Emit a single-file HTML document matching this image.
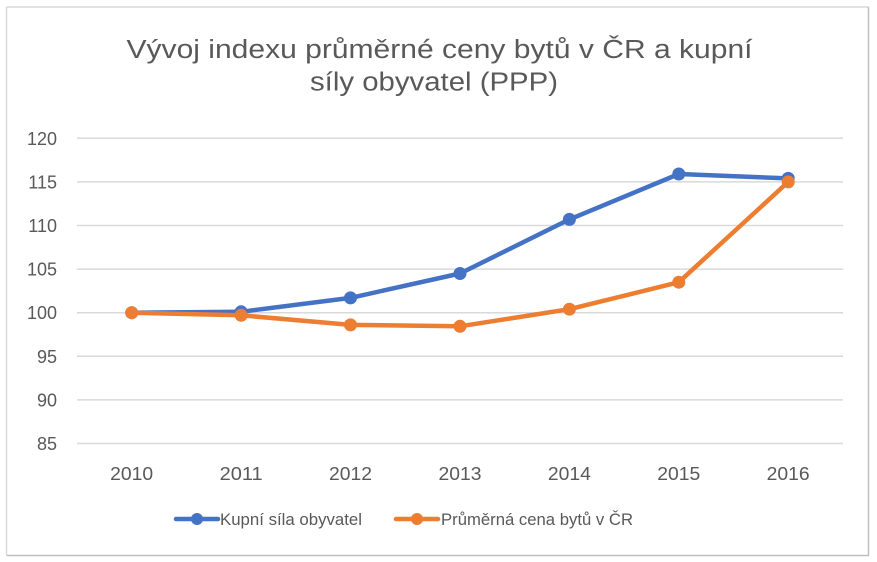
<!DOCTYPE html>
<html>
<head>
<meta charset="utf-8">
<style>
  html, body { margin:0; padding:0; background:#ffffff; }
  svg { display:block; }
  text { font-family: "Liberation Sans", "DejaVu Sans", sans-serif; fill:#595959; }
</style>
</head>
<body>
<svg width="877" height="562" viewBox="0 0 877 562" xmlns="http://www.w3.org/2000/svg">
  <rect x="0" y="0" width="877" height="562" fill="#ffffff"/>
  <!-- frame -->
  <line x1="6.5" y1="7" x2="869" y2="7" stroke="#d9d9d9" stroke-width="1.5"/>
  <line x1="6.5" y1="7" x2="6.5" y2="555" stroke="#d9d9d9" stroke-width="1.5"/>
  <line x1="868.5" y1="7" x2="868.5" y2="555.5" stroke="#bfbfbf" stroke-width="1.5"/>
  <line x1="6.5" y1="555.5" x2="869" y2="555.5" stroke="#bfbfbf" stroke-width="1.5"/>

  <!-- title -->
  <text x="126.5" y="58" font-size="25.5" textLength="626" lengthAdjust="spacingAndGlyphs">Vývoj indexu průměrné ceny bytů v ČR a kupní</text>
  <text x="310" y="90.5" font-size="25.5" textLength="248" lengthAdjust="spacingAndGlyphs">síly obyvatel (PPP)</text>

  <!-- gridlines -->
  <g stroke="#d9d9d9" stroke-width="1.5">
    <line x1="77" y1="138.3" x2="843" y2="138.3"/>
    <line x1="77" y1="181.9" x2="843" y2="181.9"/>
    <line x1="77" y1="225.5" x2="843" y2="225.5"/>
    <line x1="77" y1="269.1" x2="843" y2="269.1"/>
    <line x1="77" y1="312.7" x2="843" y2="312.7"/>
    <line x1="77" y1="356.3" x2="843" y2="356.3"/>
    <line x1="77" y1="399.9" x2="843" y2="399.9"/>
    <line x1="77" y1="443.5" x2="843" y2="443.5"/>
  </g>

  <!-- y labels -->
  <g font-size="18" text-anchor="end">
    <text x="57" y="144.8">120</text>
    <text x="57" y="188.4">115</text>
    <text x="57" y="232">110</text>
    <text x="57" y="275.6">105</text>
    <text x="57" y="319.2">100</text>
    <text x="57" y="362.8">95</text>
    <text x="57" y="406.4">90</text>
    <text x="57" y="450">85</text>
  </g>

  <!-- x labels -->
  <g font-size="18">
    <text x="110.2" y="480" textLength="43" lengthAdjust="spacingAndGlyphs">2010</text>
    <text x="219.6" y="480" textLength="43" lengthAdjust="spacingAndGlyphs">2011</text>
    <text x="329" y="480" textLength="43" lengthAdjust="spacingAndGlyphs">2012</text>
    <text x="438.5" y="480" textLength="43" lengthAdjust="spacingAndGlyphs">2013</text>
    <text x="547.9" y="480" textLength="43" lengthAdjust="spacingAndGlyphs">2014</text>
    <text x="657.3" y="480" textLength="43" lengthAdjust="spacingAndGlyphs">2015</text>
    <text x="766.7" y="480" textLength="43" lengthAdjust="spacingAndGlyphs">2016</text>
  </g>

  <!-- blue series -->
  <polyline fill="none" stroke="#4472C4" stroke-width="4.5" stroke-linejoin="round" stroke-linecap="round"
    points="131.7,312.7 241.1,311.8 350.5,297.9 460,273.5 569.4,219.4 678.8,174 788.2,178.4"/>
  <g fill="#4472C4">
    <circle cx="131.7" cy="312.7" r="6.5"/>
    <circle cx="241.1" cy="311.8" r="6.5"/>
    <circle cx="350.5" cy="297.9" r="6.5"/>
    <circle cx="460" cy="273.5" r="6.5"/>
    <circle cx="569.4" cy="219.4" r="6.5"/>
    <circle cx="678.8" cy="174" r="6.5"/>
    <circle cx="788.2" cy="178.4" r="6.5"/>
  </g>

  <!-- orange series -->
  <polyline fill="none" stroke="#ED7D31" stroke-width="4.5" stroke-linejoin="round" stroke-linecap="round"
    points="131.7,312.7 241.1,315.3 350.5,324.9 460,326.3 569.4,309.2 678.8,282.2 788.2,181.9"/>
  <g fill="#ED7D31">
    <circle cx="131.7" cy="312.7" r="6.5"/>
    <circle cx="241.1" cy="315.3" r="6.5"/>
    <circle cx="350.5" cy="324.9" r="6.5"/>
    <circle cx="460" cy="326.3" r="6.5"/>
    <circle cx="569.4" cy="309.2" r="6.5"/>
    <circle cx="678.8" cy="282.2" r="6.5"/>
    <circle cx="788.2" cy="181.9" r="6.5"/>
  </g>

  <!-- legend -->
  <line x1="176" y1="519" x2="218" y2="519" stroke="#4472C4" stroke-width="4.5" stroke-linecap="round"/>
  <circle cx="197" cy="519" r="6" fill="#4472C4"/>
  <text x="220" y="525" font-size="17" textLength="142" lengthAdjust="spacingAndGlyphs">Kupní síla obyvatel</text>

  <line x1="396" y1="519" x2="438" y2="519" stroke="#ED7D31" stroke-width="4.5" stroke-linecap="round"/>
  <circle cx="417" cy="519" r="6" fill="#ED7D31"/>
  <text x="441" y="525" font-size="17" textLength="192" lengthAdjust="spacingAndGlyphs">Průměrná cena bytů v ČR</text>
</svg>
</body>
</html>
